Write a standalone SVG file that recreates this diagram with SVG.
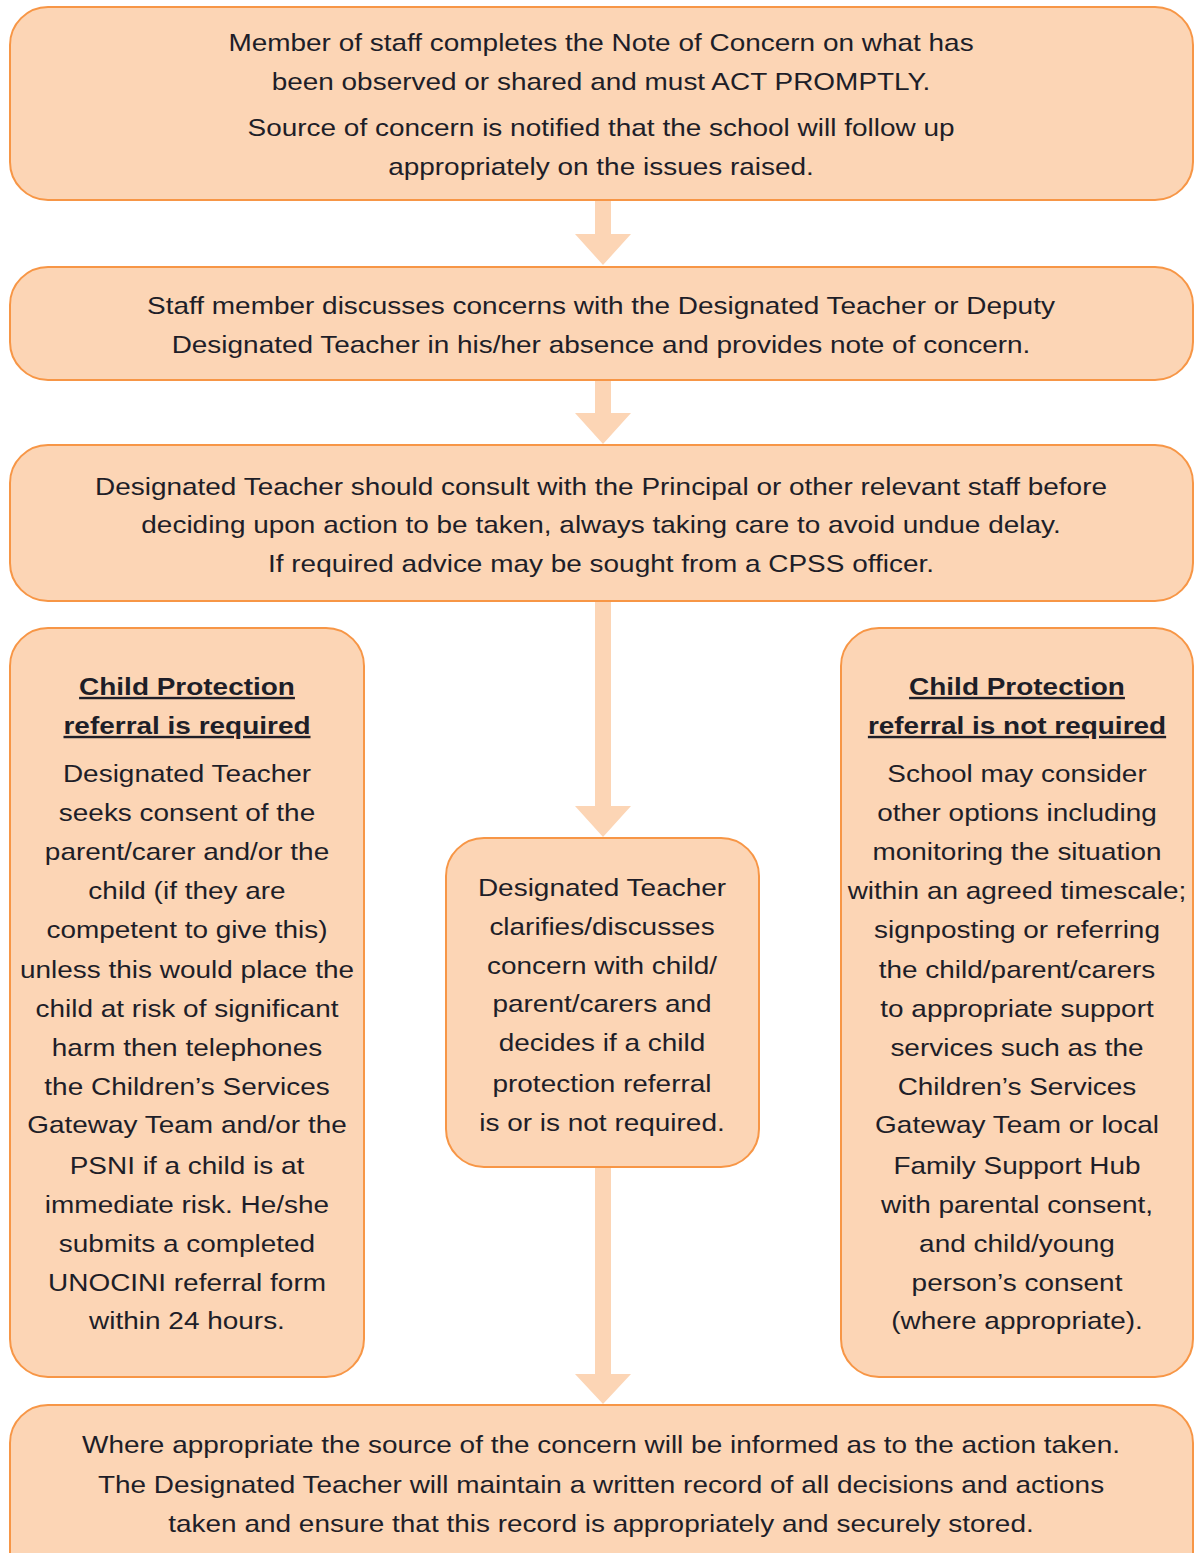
<svg xmlns="http://www.w3.org/2000/svg" width="1199" height="1553" viewBox="0 0 1199 1553">
<style>
.box{fill:#FCD5B5;stroke:#F79646;stroke-width:2}
.arr{fill:#FCD5B5;stroke:none}
text{font-family:"Liberation Sans",Arial,sans-serif;font-size:24px;fill:#1e1e28;text-anchor:middle}
.h{font-weight:bold;text-decoration:underline}
</style>
<rect width="1199" height="1553" fill="#fff"/>
<g id="connectors">
<path class="arr" d="M595,201 H611 V234 H631 L603,265 L575,234 H595 Z"/>
<path class="arr" d="M595,381 H611 V413 H631 L603,444 L575,413 H595 Z"/>
<path class="arr" d="M595,602 H611 V806 H631 L603,837 L575,806 H595 Z"/>
<path class="arr" d="M595,1168 H611 V1374 H631 L603,1404 L575,1374 H595 Z"/>
</g>
<g id="n1">
<rect class="box" x="10" y="7" width="1183" height="193" rx="38"/>
<g transform="translate(601 0) scale(1.165 1)">
<text x="0" y="51">Member of staff completes the Note of Concern on what has</text>
<text x="0" y="90">been observed or shared and must ACT PROMPTLY.</text>
<text x="0" y="136">Source of concern is notified that the school will follow up</text>
<text x="0" y="175">appropriately on the issues raised.</text>
</g>
</g>
<g id="n2">
<rect class="box" x="10" y="267" width="1183" height="113" rx="38"/>
<g transform="translate(601 0) scale(1.165 1)">
<text x="0" y="314">Staff member discusses concerns with the Designated Teacher or Deputy</text>
<text x="0" y="353">Designated Teacher in his/her absence and provides note of concern.</text>
</g>
</g>
<g id="n3">
<rect class="box" x="10" y="445" width="1183" height="156" rx="38"/>
<g transform="translate(601 0) scale(1.165 1)">
<text x="0" y="495">Designated Teacher should consult with the Principal or other relevant staff before</text>
<text x="0" y="533">deciding upon action to be taken, always taking care to avoid undue delay.</text>
<text x="0" y="572">If required advice may be sought from a CPSS officer.</text>
</g>
</g>
<g id="n4">
<rect class="box" x="10" y="628" width="354" height="749" rx="38"/>
<g transform="translate(187 0) scale(1.165 1)">
<text class="h" x="0" y="695">Child Protection</text>
<text class="h" x="0" y="734">referral is required</text>
<text x="0" y="782">Designated Teacher</text>
<text x="0" y="821">seeks consent of the</text>
<text x="0" y="860">parent/carer and/or the</text>
<text x="0" y="899">child (if they are</text>
<text x="0" y="938">competent to give this)</text>
<text x="0" y="978">unless this would place the</text>
<text x="0" y="1017">child at risk of significant</text>
<text x="0" y="1056">harm then telephones</text>
<text x="0" y="1095">the Children’s Services</text>
<text x="0" y="1133">Gateway Team and/or the</text>
<text x="0" y="1174">PSNI if a child is at</text>
<text x="0" y="1213">immediate risk. He/she</text>
<text x="0" y="1252">submits a completed</text>
<text x="0" y="1291">UNOCINI referral form</text>
<text x="0" y="1329">within 24 hours.</text>
</g>
</g>
<g id="n5">
<rect class="box" x="446" y="838" width="313" height="329" rx="38"/>
<g transform="translate(602 0) scale(1.165 1)">
<text x="0" y="896">Designated Teacher</text>
<text x="0" y="935">clarifies/discusses</text>
<text x="0" y="974">concern with child/</text>
<text x="0" y="1012">parent/carers and</text>
<text x="0" y="1051">decides if a child</text>
<text x="0" y="1092">protection referral</text>
<text x="0" y="1131">is or is not required.</text>
</g>
</g>
<g id="n6">
<rect class="box" x="841" y="628" width="352" height="749" rx="38"/>
<g transform="translate(1017 0) scale(1.165 1)">
<text class="h" x="0" y="695">Child Protection</text>
<text class="h" x="0" y="734">referral is not required</text>
<text x="0" y="782">School may consider</text>
<text x="0" y="821">other options including</text>
<text x="0" y="860">monitoring the situation</text>
<text x="0" y="899">within an agreed timescale;</text>
<text x="0" y="938">signposting or referring</text>
<text x="0" y="978">the child/parent/carers</text>
<text x="0" y="1017">to appropriate support</text>
<text x="0" y="1056">services such as the</text>
<text x="0" y="1095">Children’s Services</text>
<text x="0" y="1133">Gateway Team or local</text>
<text x="0" y="1174">Family Support Hub</text>
<text x="0" y="1213">with parental consent,</text>
<text x="0" y="1252">and child/young</text>
<text x="0" y="1291">person’s consent</text>
<text x="0" y="1329">(where appropriate).</text>
</g>
</g>
<g id="n7">
<rect class="box" x="10" y="1405" width="1183" height="200" rx="38"/>
<g transform="translate(601 0) scale(1.165 1)">
<text x="0" y="1453">Where appropriate the source of the concern will be informed as to the action taken.</text>
<text x="0" y="1493">The Designated Teacher will maintain a written record of all decisions and actions</text>
<text x="0" y="1532">taken and ensure that this record is appropriately and securely stored.</text>
</g>
</g>
</svg>
